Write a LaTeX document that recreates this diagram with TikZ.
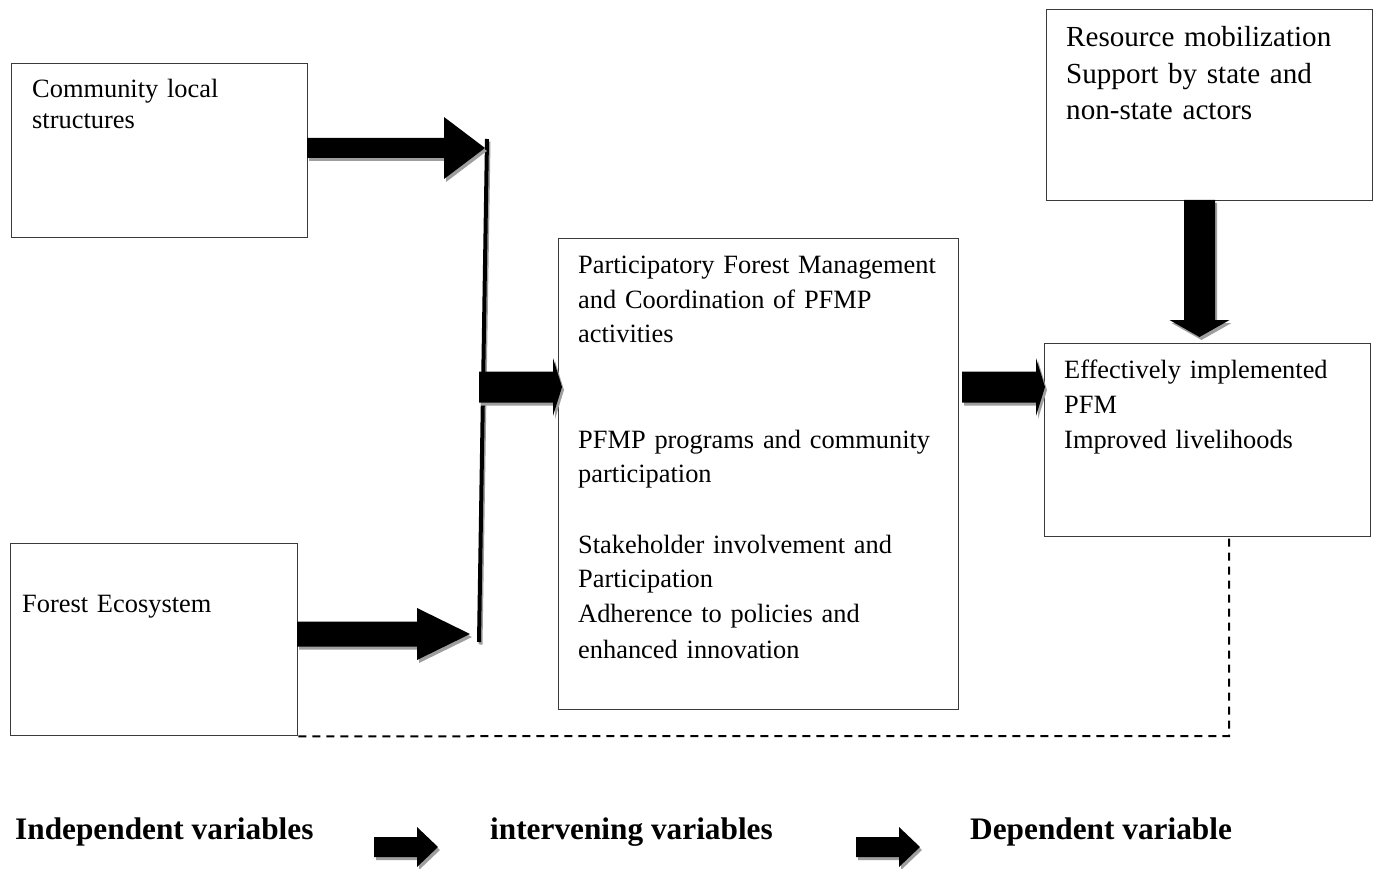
\documentclass[tikz,border=0pt]{standalone}
\usepackage{fontspec}
\setmainfont{Liberation Serif}
\usetikzlibrary{calc}
\definecolor{shadowgray}{HTML}{9E9E9E}
\definecolor{boxline}{HTML}{3A3A3A}
\tikzset{
  box/.style={draw=boxline, line width=1.3pt, inner sep=0pt, anchor=north west},
  lbl/.style={anchor=base west, inner sep=0pt, align=left, text width=#1,
    font=\fontsize{26.4}{35}\selectfont},
  lbl/.default=380pt,
  biglbl/.style={anchor=base west, inner sep=0pt, align=left, text width=300pt,
    font=\fontsize{29.1}{36.5}\selectfont},
  foot/.style={anchor=base west, inner sep=0pt, font=\fontsize{31.3}{36}\selectfont\bfseries},
  dashline/.style={draw=black, line width=2pt, dash pattern=on 8pt off 6pt},
  vline/.style={line width=4pt},
}
% block arrow pointing right: #1 start, #2 tip, #3 shaft half, #4 head half, #5 head length, #6 offset, #7 colour
\newcommand\blockR[7]{\fill[#7] ($(#1)+#6+(0,-#3)$) -- ($(#2)+#6+(-#5,-#3)$) -- ($(#2)+#6+(-#5,-#4)$) -- ($(#2)+#6$) -- ($(#2)+#6+(-#5,#4)$) -- ($(#2)+#6+(-#5,#3)$) -- ($(#1)+#6+(0,#3)$) -- cycle;}
% block arrow pointing down
\newcommand\blockD[7]{\fill[#7] ($(#1)+#6+(-#3,0)$) -- ($(#2)+#6+(-#3,-#5)$) -- ($(#2)+#6+(-#4,-#5)$) -- ($(#2)+#6$) -- ($(#2)+#6+(#4,-#5)$) -- ($(#2)+#6+(#3,-#5)$) -- ($(#1)+#6+(#3,0)$) -- cycle;}
\begin{document}
\begin{tikzpicture}[x=1pt,y=-1pt]
\useasboundingbox[fill=white] (0,0) rectangle (1379,869);

% boxes
\node[box, minimum width=296pt, minimum height=174pt] (c1) at (11,63) {};
\node[box, minimum width=287pt, minimum height=192pt] (fe) at (10,543) {};
\node[box, minimum width=400pt, minimum height=471pt] (pfm) at (558,238) {};
\node[box, minimum width=326pt, minimum height=191pt] (rm) at (1046,9) {};
\node[box, minimum width=326pt, minimum height=193pt] (eff) at (1044,343) {};

% texts
\node[lbl=270pt] (t1) at (32,98) {Community local\\[-4pt]structures};
\node[lbl=270pt] (t2) at (22,612) {Forest Ecosystem};
\node[lbl=380pt] (t3) at (578,273) {Participatory Forest Management\\and Coordination of PFMP\\activities\\[70pt]PFMP programs and community\\participation\\[35pt]Stakeholder involvement and\\Participation\\Adherence to policies and\\enhanced innovation};
\node[biglbl] (t4) at (1066,47) {Resource mobilization\\Support by state and\\non-state actors};
\node[lbl=300pt] (t5) at (1064,378) {Effectively implemented\\PFM\\Improved livelihoods};

% collecting line
\coordinate (lt) at (487,139);
\coordinate (lb) at (479,642);
\draw[vline, shadowgray] ($(lt)+(1.5,2.5)$) -- ($(lb)+(1.5,2.5)$);
\draw[vline, black] (lt) -- (lb);

% arrow endpoints
\coordinate (a1s) at (307,148);
\coordinate (a1t) at (485,148);
\coordinate (a2s) at (297,634);
\coordinate (a2t) at (470,634);
\coordinate (a3s) at (479,387);
\coordinate (a3t) at (562,387);
\coordinate (a4s) at (962,387);
\coordinate (a4t) at (1045,387);
\coordinate (a5s) at (1199.5,200);
\coordinate (a5t) at (1199.5,337);

\blockR{a1s}{a1t}{10}{31}{41}{(2,3)}{shadowgray}
\blockR{a1s}{a1t}{10}{31}{41}{(0,0)}{black}
\blockR{a2s}{a2t}{12.5}{26}{53}{(2,3)}{shadowgray}
\blockR{a2s}{a2t}{12.5}{26}{53}{(0,0)}{black}
\blockR{a3s}{a3t}{15.5}{29}{9}{(2,3)}{shadowgray}
\blockR{a3s}{a3t}{15.5}{29}{9}{(0,0)}{black}
\blockR{a4s}{a4t}{15.5}{29}{9}{(2,3)}{shadowgray}
\blockR{a4s}{a4t}{15.5}{29}{9}{(0,0)}{black}
\blockD{a5s}{a5t}{15.5}{30}{17}{(2,3)}{shadowgray}
\blockD{a5s}{a5t}{15.5}{30}{17}{(0,0)}{black}

% dashed feedback line
\coordinate (dc) at (1229,736);
\draw[dashline] (fe.south east) -- (dc) -- (dc |- eff.south);

% footer
\node[foot] (iv) at (15,839) {Independent variables};
\node[foot] (mv) at (490,839) {intervening variables};
\node[foot] (dv) at (970,839) {Dependent variable};
\coordinate (b1s) at (374,847);
\coordinate (b1t) at (438,847);
\coordinate (b2s) at (856,847);
\coordinate (b2t) at (920,847);
\blockR{b1s}{b1t}{10}{20}{21}{(2,3)}{shadowgray}
\blockR{b1s}{b1t}{10}{20}{21}{(0,0)}{black}
\blockR{b2s}{b2t}{10}{20}{21}{(2,3)}{shadowgray}
\blockR{b2s}{b2t}{10}{20}{21}{(0,0)}{black}
\end{tikzpicture}
\end{document}
